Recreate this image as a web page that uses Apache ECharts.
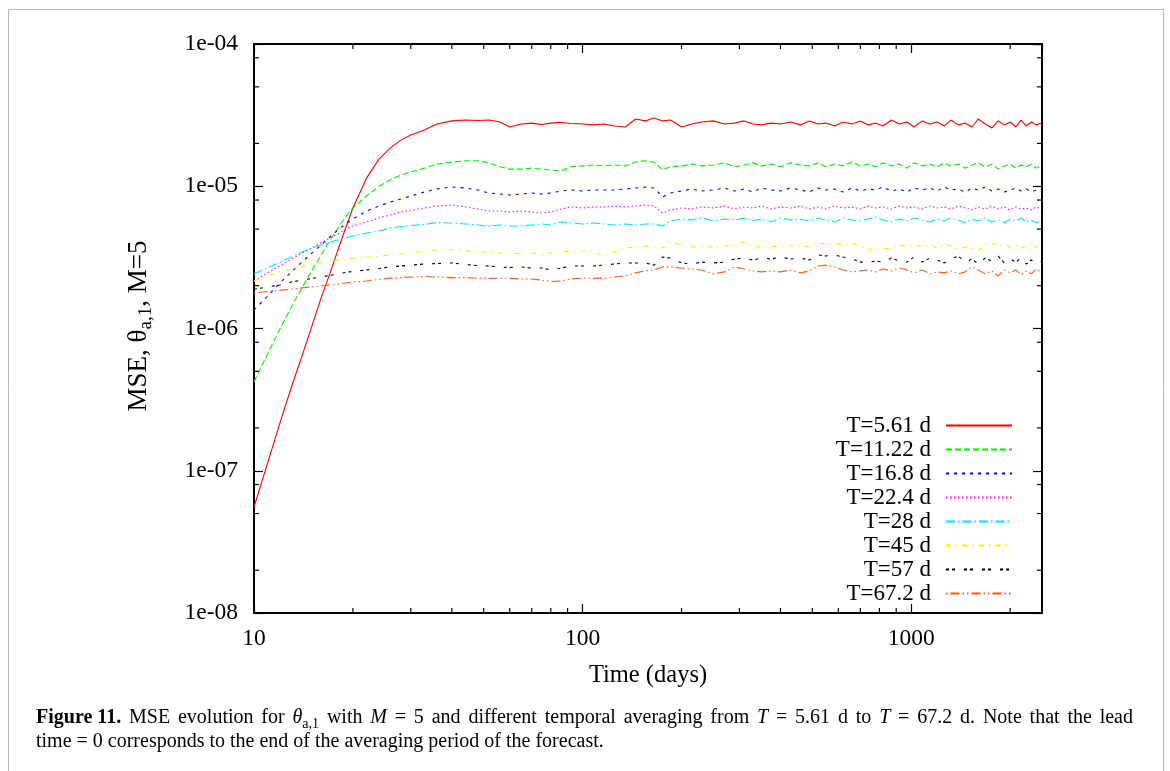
<!DOCTYPE html>
<html>
<head>
<meta charset="utf-8">
<script src="https://cdn.jsdelivr.net/npm/echarts@6/dist/echarts.min.js"></script>
<style>
html,body{margin:0;padding:0;background:#fff;}
#c{width:1170px;height:771px;}
</style>
</head>
<body>
<div id="c"></div>
<script>
// ---------------- DATA ----------------
const timeDays = [10, 11, 12, 13, 14, 15, 16, 17, 18, 19, 20, 22, 24, 26, 28, 30, 33, 36, 40, 44, 48, 52, 56, 60, 65, 70, 75, 80, 86, 92,
  100, 108, 116, 125, 135, 145, 155, 165, 175, 185,
  200, 215, 230, 250, 270, 290, 310, 330, 350, 375,
  400, 430, 460, 490, 520, 550, 585, 620, 660, 700,
  740, 780, 820, 870, 920, 970, 1020, 1080, 1140, 1200,
  1260, 1320, 1390, 1460, 1530, 1600, 1680, 1760, 1840, 1920,
  2000, 2080, 2160, 2240, 2320, 2400, 2500];

const seriesNames = ['T=5.61 d', 'T=11.22 d', 'T=16.8 d', 'T=22.4 d', 'T=28 d', 'T=45 d', 'T=57 d', 'T=67.2 d'];

const mseT5_61 = [5.56e-8, 1.13e-7, 2.18e-7, 3.88e-7, 6.41e-7, 1.04e-6, 1.64e-6, 2.42e-6, 3.56e-6, 5.09e-6, 7.03e-6, 1.14e-5, 1.55e-5, 1.86e-5, 2.11e-5, 2.29e-5, 2.49e-5, 2.74e-5, 2.88e-5, 2.92e-5, 2.90e-5, 2.92e-5, 2.83e-5, 2.61e-5, 2.74e-5, 2.78e-5, 2.72e-5, 2.78e-5, 2.81e-5, 2.76e-5,
  2.74e-5, 2.70e-5, 2.74e-5, 2.65e-5, 2.61e-5, 2.97e-5, 2.88e-5, 3.02e-5, 2.88e-5, 2.92e-5,
  2.61e-5, 2.74e-5, 2.83e-5, 2.88e-5, 2.74e-5, 2.78e-5, 2.88e-5, 2.74e-5, 2.70e-5, 2.78e-5,
  2.74e-5, 2.83e-5, 2.70e-5, 2.88e-5, 2.74e-5, 2.78e-5, 2.65e-5, 2.83e-5, 2.74e-5, 2.88e-5,
  2.70e-5, 2.78e-5, 2.65e-5, 2.92e-5, 2.74e-5, 2.83e-5, 2.61e-5, 2.88e-5, 2.74e-5, 2.83e-5,
  2.65e-5, 2.92e-5, 2.70e-5, 2.78e-5, 2.61e-5, 2.97e-5, 2.74e-5, 2.57e-5, 2.88e-5, 2.70e-5,
  2.83e-5, 2.61e-5, 2.92e-5, 2.65e-5, 2.83e-5, 2.70e-5, 2.78e-5];

const mseT11_22 = [4.21e-7, 6.62e-7, 9.92e-7, 1.42e-6, 1.93e-6, 2.54e-6, 3.29e-6, 4.12e-6, 5.09e-6, 6.08e-6, 7.03e-6, 8.54e-6, 1.00e-5, 1.11e-5, 1.20e-5, 1.26e-5, 1.34e-5, 1.43e-5, 1.48e-5, 1.51e-5, 1.51e-5, 1.46e-5, 1.37e-5, 1.32e-5, 1.32e-5, 1.34e-5, 1.32e-5, 1.30e-5, 1.28e-5, 1.37e-5,
  1.39e-5, 1.41e-5, 1.39e-5, 1.41e-5, 1.39e-5, 1.48e-5, 1.51e-5, 1.48e-5, 1.30e-5, 1.37e-5,
  1.39e-5, 1.43e-5, 1.39e-5, 1.41e-5, 1.46e-5, 1.37e-5, 1.41e-5, 1.46e-5, 1.39e-5, 1.43e-5,
  1.37e-5, 1.46e-5, 1.41e-5, 1.39e-5, 1.46e-5, 1.37e-5, 1.43e-5, 1.39e-5, 1.48e-5, 1.39e-5,
  1.43e-5, 1.37e-5, 1.46e-5, 1.39e-5, 1.43e-5, 1.34e-5, 1.46e-5, 1.39e-5, 1.43e-5, 1.37e-5,
  1.46e-5, 1.39e-5, 1.43e-5, 1.34e-5, 1.41e-5, 1.46e-5, 1.37e-5, 1.43e-5, 1.32e-5, 1.39e-5,
  1.43e-5, 1.34e-5, 1.41e-5, 1.37e-5, 1.43e-5, 1.34e-5, 1.39e-5];

const mseT16_8 = [1.35e-6, 1.69e-6, 2.09e-6, 2.50e-6, 2.93e-6, 3.39e-6, 3.86e-6, 4.40e-6, 4.92e-6, 5.43e-6, 5.89e-6, 6.70e-6, 7.26e-6, 7.75e-6, 8.13e-6, 8.54e-6, 9.11e-6, 9.56e-6, 9.88e-6, 9.72e-6, 9.41e-6, 8.96e-6, 8.82e-6, 8.68e-6, 8.82e-6, 8.96e-6, 8.82e-6, 8.96e-6, 9.26e-6, 9.41e-6,
  9.26e-6, 9.41e-6, 9.41e-6, 9.41e-6, 9.56e-6, 9.72e-6, 9.88e-6, 9.72e-6, 8.40e-6, 8.96e-6,
  9.26e-6, 9.56e-6, 9.26e-6, 9.41e-6, 9.72e-6, 9.26e-6, 9.56e-6, 9.11e-6, 9.72e-6, 9.41e-6,
  9.26e-6, 9.72e-6, 9.41e-6, 9.11e-6, 9.72e-6, 9.41e-6, 9.56e-6, 9.11e-6, 9.72e-6, 9.26e-6,
  9.56e-6, 9.41e-6, 9.88e-6, 9.26e-6, 9.56e-6, 9.11e-6, 9.72e-6, 9.41e-6, 9.72e-6, 9.26e-6,
  9.88e-6, 9.41e-6, 9.56e-6, 9.11e-6, 9.72e-6, 9.41e-6, 9.88e-6, 9.26e-6, 9.56e-6, 9.11e-6,
  9.41e-6, 9.72e-6, 9.26e-6, 9.56e-6, 9.11e-6, 9.41e-6, 9.26e-6];

const mseT22_4 = [2.16e-6, 2.46e-6, 2.75e-6, 3.08e-6, 3.39e-6, 3.68e-6, 3.99e-6, 4.33e-6, 4.62e-6, 5.01e-6, 5.25e-6, 5.61e-6, 5.98e-6, 6.28e-6, 6.59e-6, 6.75e-6, 7.03e-6, 7.26e-6, 7.38e-6, 7.15e-6, 6.92e-6, 6.70e-6, 6.70e-6, 6.59e-6, 6.70e-6, 6.59e-6, 6.48e-6, 6.59e-6, 6.92e-6, 7.15e-6,
  7.03e-6, 7.15e-6, 7.15e-6, 7.26e-6, 7.15e-6, 7.26e-6, 7.38e-6, 7.26e-6, 6.48e-6, 6.81e-6,
  7.03e-6, 6.92e-6, 7.15e-6, 7.03e-6, 7.26e-6, 6.92e-6, 7.15e-6, 7.03e-6, 7.26e-6, 6.92e-6,
  7.15e-6, 7.03e-6, 7.26e-6, 6.92e-6, 7.15e-6, 6.92e-6, 7.26e-6, 7.03e-6, 7.15e-6, 6.92e-6,
  7.26e-6, 7.03e-6, 7.15e-6, 6.92e-6, 7.26e-6, 7.03e-6, 7.15e-6, 6.92e-6, 7.26e-6, 7.03e-6,
  7.15e-6, 6.92e-6, 7.26e-6, 7.03e-6, 6.81e-6, 7.15e-6, 6.92e-6, 7.26e-6, 6.92e-6, 7.15e-6,
  6.81e-6, 7.15e-6, 6.92e-6, 7.03e-6, 6.81e-6, 7.15e-6, 6.92e-6];

const mseT28 = [2.42e-6, 2.66e-6, 2.93e-6, 3.18e-6, 3.45e-6, 3.68e-6, 3.86e-6, 4.05e-6, 4.19e-6, 4.33e-6, 4.47e-6, 4.69e-6, 4.85e-6, 5.09e-6, 5.21e-6, 5.30e-6, 5.38e-6, 5.56e-6, 5.52e-6, 5.43e-6, 5.34e-6, 5.25e-6, 5.34e-6, 5.25e-6, 5.25e-6, 5.34e-6, 5.43e-6, 5.34e-6, 5.61e-6, 5.52e-6,
  5.43e-6, 5.52e-6, 5.43e-6, 5.34e-6, 5.43e-6, 5.34e-6, 5.43e-6, 5.43e-6, 5.25e-6, 5.70e-6,
  5.89e-6, 5.79e-6, 5.98e-6, 5.70e-6, 5.89e-6, 5.79e-6, 5.98e-6, 5.70e-6, 5.89e-6, 5.61e-6,
  5.98e-6, 5.79e-6, 5.89e-6, 5.70e-6, 5.98e-6, 5.79e-6, 5.61e-6, 5.98e-6, 5.79e-6, 5.70e-6,
  5.89e-6, 6.08e-6, 5.79e-6, 5.61e-6, 5.89e-6, 5.70e-6, 5.98e-6, 5.79e-6, 5.61e-6, 5.89e-6,
  5.70e-6, 5.98e-6, 5.79e-6, 5.52e-6, 5.89e-6, 5.70e-6, 5.98e-6, 5.61e-6, 5.79e-6, 5.52e-6,
  5.89e-6, 5.70e-6, 5.98e-6, 5.61e-6, 5.79e-6, 5.52e-6, 5.70e-6];

const mseT45 = [2.16e-6, 2.34e-6, 2.50e-6, 2.62e-6, 2.73e-6, 2.82e-6, 2.89e-6, 2.96e-6, 3.03e-6, 3.08e-6, 3.11e-6, 3.16e-6, 3.21e-6, 3.29e-6, 3.34e-6, 3.39e-6, 3.48e-6, 3.56e-6, 3.56e-6, 3.53e-6, 3.48e-6, 3.42e-6, 3.39e-6, 3.37e-6, 3.37e-6, 3.39e-6, 3.34e-6, 3.39e-6, 3.45e-6, 3.51e-6,
  3.51e-6, 3.45e-6, 3.23e-6, 3.45e-6, 3.68e-6, 3.74e-6, 3.80e-6, 3.74e-6, 3.68e-6, 4.05e-6,
  3.86e-6, 3.74e-6, 3.80e-6, 3.74e-6, 3.80e-6, 3.86e-6, 4.05e-6, 3.80e-6, 3.74e-6, 3.80e-6,
  3.74e-6, 3.80e-6, 3.86e-6, 3.74e-6, 3.99e-6, 3.93e-6, 3.99e-6, 3.86e-6, 3.99e-6, 3.80e-6,
  3.62e-6, 3.56e-6, 3.62e-6, 3.68e-6, 3.86e-6, 3.80e-6, 3.93e-6, 3.74e-6, 3.86e-6, 3.68e-6,
  3.93e-6, 3.80e-6, 3.62e-6, 3.74e-6, 3.68e-6, 3.51e-6, 3.93e-6, 3.99e-6, 3.80e-6, 3.93e-6,
  3.74e-6, 3.86e-6, 3.68e-6, 3.80e-6, 3.51e-6, 3.80e-6, 3.68e-6];

const mseT57 = [1.89e-6, 1.96e-6, 2.02e-6, 2.12e-6, 2.19e-6, 2.25e-6, 2.30e-6, 2.36e-6, 2.42e-6, 2.48e-6, 2.52e-6, 2.58e-6, 2.64e-6, 2.71e-6, 2.75e-6, 2.79e-6, 2.84e-6, 2.86e-6, 2.89e-6, 2.82e-6, 2.77e-6, 2.75e-6, 2.71e-6, 2.68e-6, 2.71e-6, 2.66e-6, 2.66e-6, 2.58e-6, 2.66e-6, 2.75e-6,
  2.75e-6, 2.75e-6, 2.79e-6, 2.84e-6, 2.89e-6, 2.89e-6, 2.89e-6, 2.79e-6, 3.18e-6, 3.13e-6,
  2.89e-6, 2.84e-6, 2.93e-6, 2.89e-6, 2.93e-6, 3.08e-6, 3.13e-6, 3.03e-6, 3.13e-6, 3.08e-6,
  3.18e-6, 3.08e-6, 3.13e-6, 3.03e-6, 3.29e-6, 3.23e-6, 3.29e-6, 3.18e-6, 3.08e-6, 2.93e-6,
  2.93e-6, 2.98e-6, 2.93e-6, 3.13e-6, 2.98e-6, 2.93e-6, 3.18e-6, 2.93e-6, 3.13e-6, 3.03e-6,
  2.89e-6, 3.08e-6, 3.23e-6, 2.93e-6, 3.08e-6, 2.84e-6, 3.13e-6, 2.98e-6, 3.23e-6, 2.89e-6,
  3.08e-6, 2.93e-6, 3.13e-6, 2.84e-6, 3.03e-6, 2.89e-6, 2.98e-6];

const mseT67_2 = [1.78e-6, 1.82e-6, 1.86e-6, 1.89e-6, 1.93e-6, 1.96e-6, 1.99e-6, 2.02e-6, 2.05e-6, 2.09e-6, 2.12e-6, 2.16e-6, 2.21e-6, 2.26e-6, 2.28e-6, 2.30e-6, 2.32e-6, 2.30e-6, 2.28e-6, 2.28e-6, 2.26e-6, 2.25e-6, 2.26e-6, 2.25e-6, 2.23e-6, 2.23e-6, 2.19e-6, 2.14e-6, 2.16e-6, 2.23e-6,
  2.26e-6, 2.25e-6, 2.26e-6, 2.30e-6, 2.34e-6, 2.46e-6, 2.54e-6, 2.58e-6, 2.71e-6, 2.71e-6,
  2.66e-6, 2.62e-6, 2.58e-6, 2.42e-6, 2.50e-6, 2.71e-6, 2.62e-6, 2.54e-6, 2.50e-6, 2.54e-6,
  2.50e-6, 2.58e-6, 2.46e-6, 2.54e-6, 2.75e-6, 2.79e-6, 2.71e-6, 2.58e-6, 2.50e-6, 2.54e-6,
  2.58e-6, 2.50e-6, 2.62e-6, 2.54e-6, 2.66e-6, 2.58e-6, 2.46e-6, 2.58e-6, 2.42e-6, 2.50e-6,
  2.46e-6, 2.54e-6, 2.42e-6, 2.50e-6, 2.71e-6, 2.58e-6, 2.42e-6, 2.54e-6, 2.34e-6, 2.58e-6,
  2.46e-6, 2.58e-6, 2.38e-6, 2.54e-6, 2.42e-6, 2.62e-6, 2.46e-6];

const xTickValues = [10, 100, 1000];
const xTickLabels = ['10', '100', '1000'];
const xMinorTickValues = [20, 30, 40, 50, 60, 70, 80, 90, 200, 300, 400, 500, 600, 700, 800, 900, 2000];
const yTickValues = [1e-8, 1e-7, 1e-6, 1e-5, 1e-4];
const yTickLabels = ['1e-08', '1e-07', '1e-06', '1e-05', '1e-04'];
const yMinorTickValues = [2e-8, 5e-8, 8e-8, 2e-7, 5e-7, 8e-7, 2e-6, 5e-6, 8e-6, 2e-5, 5e-5, 8e-5];

const X_MIN = 10, X_MAX = 2500, Y_MIN = 1e-8, Y_MAX = 1e-4;

// caption (line 1 is justified like the source paragraph)
const captionLine1 = [
  ['b', 'Figure 11.'], ['n', 'MSE'], ['n', 'evolution'], ['n', 'for'], ['i', 'θ', 's', 'a,1'], ['n', 'with'], ['i', 'M'], ['n', '='], ['n', '5'],
  ['n', 'and'], ['n', 'different'], ['n', 'temporal'], ['n', 'averaging'], ['n', 'from'], ['i', 'T'], ['n', '='], ['n', '5.61'], ['n', 'd'],
  ['n', 'to'], ['i', 'T'], ['n', '='], ['n', '67.2'], ['n', 'd.'], ['n', 'Note'], ['n', 'that'], ['n', 'the'], ['n', 'lead']
];
const captionLine2 = 'time = 0 corresponds to the end of the averaging period of the forecast.';

// ---------------- STYLES ----------------
const SERIF = "'Liberation Serif', 'DejaVu Serif', 'Times New Roman', serif";
const CAP_SIZE = 20, SUB_SIZE = 14;
const CAP_LEFT = 36, CAP_RIGHT = 1133;
const seriesValues = [mseT5_61, mseT11_22, mseT16_8, mseT22_4, mseT28, mseT45, mseT57, mseT67_2];
const lineColors = ['#ff0000', '#00ee00', '#0000ff', '#ff00ff', '#00e5ff', '#f2f200', '#000000', '#ff5a10'];
const lineDashes = ['solid', [6, 3], [3, 5], [1.5, 2.5], [9, 3, 1.5, 3], [5, 5, 1.5, 5], [3, 3, 3, 9], [1.5, 3, 9, 3, 1.5, 3]];

function labelFor(v, ticks, labels) {
  for (let i = 0; i < ticks.length; i++) {
    if (Math.abs(Math.log10(v) - Math.log10(ticks[i])) < 1e-6) return labels[i];
  }
  return '';
}

// build justified caption line via measured word widths
const mctx = document.createElement('canvas').getContext('2d');
function fontFor(key) {
  if (key === 'b') return 'bold ' + CAP_SIZE + 'px ' + SERIF;
  if (key === 'i') return 'italic ' + CAP_SIZE + 'px ' + SERIF;
  if (key === 's') return SUB_SIZE + 'px ' + SERIF;
  return CAP_SIZE + 'px ' + SERIF;
}
let wordsWidth = 0;
captionLine1.forEach(w => {
  for (let j = 0; j < w.length; j += 2) {
    mctx.font = fontFor(w[j]);
    wordsWidth += mctx.measureText(w[j + 1]).width;
  }
});
const gapW = (CAP_RIGHT - CAP_LEFT - wordsWidth) / (captionLine1.length - 1);
const captionRich1 = captionLine1.map(w => {
  let s = '';
  for (let j = 0; j < w.length; j += 2) s += '{' + w[j] + '|' + w[j + 1] + '}';
  return s;
}).join('{g| }');

const lineSeries = seriesNames.map((name, k) => ({
  name: name,
  type: 'line',
  xAxisIndex: 0,
  yAxisIndex: 0,
  showSymbol: false,
  symbol: 'none',
  clip: true,
  z: 3,
  data: timeDays.map((t, i) => [t, seriesValues[k][i]]),
  lineStyle: { color: lineColors[k], width: 1.1, type: lineDashes[k] },
  itemStyle: { color: lineColors[k] }
}));

const tickStyle = { stroke: '#000', lineWidth: 1.2 };

const xMinorSeries = {
  type: 'custom', name: 'xMinorTicks', silent: true, clip: false, z: 6,
  xAxisIndex: 0, yAxisIndex: 0,
  encode: { x: 0, y: 1 },
  data: xMinorTickValues.map(v => [v, Y_MIN]),
  renderItem: function (params, api) {
    const v = api.value(0);
    const b = api.coord([v, Y_MIN]);
    const t = api.coord([v, Y_MAX]);
    return { type: 'group', children: [
      { type: 'line', shape: { x1: b[0], y1: b[1], x2: b[0], y2: b[1] - 5 }, style: tickStyle },
      { type: 'line', shape: { x1: t[0], y1: t[1], x2: t[0], y2: t[1] + 5 }, style: tickStyle }
    ] };
  }
};

const yMinorSeries = {
  type: 'custom', name: 'yMinorTicks', silent: true, clip: false, z: 6,
  xAxisIndex: 0, yAxisIndex: 0,
  encode: { x: 0, y: 1 },
  data: yMinorTickValues.map(v => [X_MIN, v]),
  renderItem: function (params, api) {
    const v = api.value(1);
    const l = api.coord([X_MIN, v]);
    const r = api.coord([X_MAX, v]);
    return { type: 'group', children: [
      { type: 'line', shape: { x1: l[0], y1: l[1], x2: l[0] + 5, y2: l[1] }, style: tickStyle },
      { type: 'line', shape: { x1: r[0], y1: r[1], x2: r[0] - 5, y2: r[1] }, style: tickStyle }
    ] };
  }
};

const axisLineStyle = { show: true, onZero: false, lineStyle: { color: '#000', width: 2 } };
const majorTick = { show: true, inside: true, length: 9, lineStyle: { color: '#000', width: 1.2 } };
const labelStyle = { fontFamily: SERIF, fontSize: 23.5, color: '#000' };

const option = {
  backgroundColor: '#ffffff',
  animation: false,
  grid: { left: 254, right: 128, top: 44, bottom: 158, containLabel: false, outerBoundsMode: 'none' },
  xAxis: [
    {
      type: 'log', logBase: 10, min: X_MIN, max: X_MAX, position: 'bottom',
      axisLine: axisLineStyle, axisTick: majorTick,
      minorTick: { show: false }, splitLine: { show: false }, minorSplitLine: { show: false },
      axisLabel: Object.assign({ margin: 14, showMaxLabel: false, formatter: v => labelFor(v, xTickValues, xTickLabels) }, labelStyle),
      name: 'Time (days)', nameLocation: 'middle', nameGap: 50,
      nameTextStyle: { fontFamily: SERIF, fontSize: 24.5, color: '#000' }
    },
    {
      type: 'log', logBase: 10, min: X_MIN, max: X_MAX, position: 'top',
      axisLine: axisLineStyle, axisTick: majorTick,
      minorTick: { show: false }, splitLine: { show: false },
      axisLabel: { show: false }
    }
  ],
  yAxis: [
    {
      type: 'log', logBase: 10, min: Y_MIN, max: Y_MAX, position: 'left',
      axisLine: axisLineStyle, axisTick: majorTick,
      minorTick: { show: false }, splitLine: { show: false }, minorSplitLine: { show: false },
      axisLabel: Object.assign({ margin: 16, formatter: v => labelFor(v, yTickValues, yTickLabels) }, labelStyle)
    },
    {
      type: 'log', logBase: 10, min: Y_MIN, max: Y_MAX, position: 'right',
      axisLine: axisLineStyle, axisTick: majorTick,
      minorTick: { show: false }, splitLine: { show: false },
      axisLabel: { show: false }
    }
  ],
  legend: {
    data: seriesNames,
    orient: 'vertical',
    align: 'right',
    right: 152,
    top: 408.5,
    itemWidth: 66,
    itemHeight: 12,
    itemGap: 0,
    selectedMode: false,
    itemStyle: { opacity: 0 },
    textStyle: { fontFamily: SERIF, fontSize: 23, color: '#000', lineHeight: 24, padding: [0, 10, 0, 0] }
  },
  graphic: [
    { type: 'rect', silent: true, z: -10, shape: { x: 8.5, y: 9.5, width: 1155, height: 800 },
      style: { fill: 'none', stroke: '#b8b8b8', lineWidth: 1 } },
    { type: 'text', silent: true, x: 139, y: 326, rotation: Math.PI / 2,
      style: {
        text: '{m|MSE, θ}{s|a,1}{m|, M=5}',
        align: 'center', verticalAlign: 'middle',
        rich: {
          m: { fontFamily: SERIF, fontSize: 27, fill: '#000', lineHeight: 34 },
          s: { fontFamily: SERIF, fontSize: 19, fill: '#000', lineHeight: 18, verticalAlign: 'bottom' }
        }
      } },
    { type: 'text', silent: true, x: CAP_LEFT, y: 718,
      style: {
        text: captionRich1,
        align: 'left', verticalAlign: 'middle',
        rich: {
          b: { fontFamily: SERIF, fontSize: CAP_SIZE, fontWeight: 'bold', fill: '#000', lineHeight: 26 },
          n: { fontFamily: SERIF, fontSize: CAP_SIZE, fill: '#000', lineHeight: 26 },
          i: { fontFamily: SERIF, fontSize: CAP_SIZE, fontStyle: 'italic', fill: '#000', lineHeight: 26 },
          s: { fontFamily: SERIF, fontSize: SUB_SIZE, fill: '#000', lineHeight: 13, verticalAlign: 'bottom' },
          g: { fontFamily: SERIF, fontSize: CAP_SIZE, fill: '#000', lineHeight: 26, width: gapW }
        }
      } },
    { type: 'text', silent: true, x: CAP_LEFT, y: 742,
      style: {
        text: captionLine2,
        align: 'left', verticalAlign: 'middle',
        fontFamily: SERIF, fontSize: CAP_SIZE, fill: '#000'
      } }
  ],
  series: lineSeries.concat([xMinorSeries, yMinorSeries])
};

const chart = echarts.init(document.getElementById('c'), null, { renderer: 'canvas' });
chart.setOption(option);
</script>
</body>
</html>
